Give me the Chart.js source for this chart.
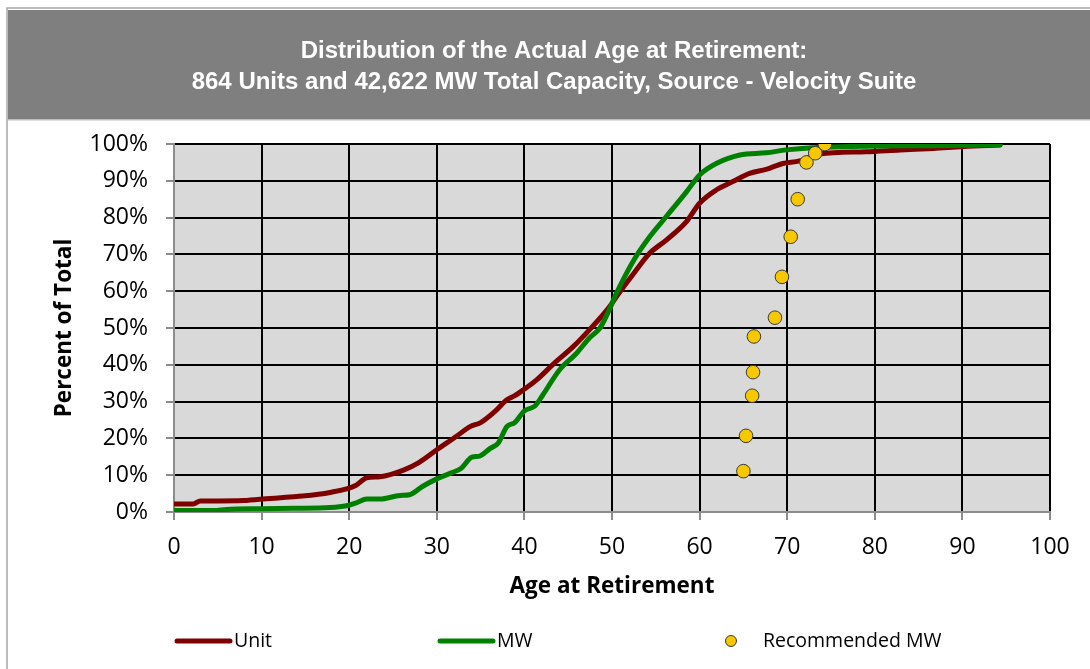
<!DOCTYPE html>
<html>
<head>
<meta charset="utf-8">
<script src="https://cdn.jsdelivr.net/npm/chart.js@4.4.1/dist/chart.umd.min.js"></script>
<style>
  html, body { margin: 0; padding: 0; background: #ffffff; }
  #wrap { width: 1090px; height: 669px; position: relative; }
</style>
</head>
<body>
<div id="wrap"><canvas id="c" width="1090" height="669"></canvas></div>
<script>
// ---- Data ----
const titleLines = [
  'Distribution of the Actual Age at Retirement:',
  '864 Units and 42,622 MW Total Capacity, Source - Velocity Suite'
];
const xTitle = 'Age at Retirement';
const yTitle = 'Percent of Total';
const seriesNames = ['Unit', 'MW', 'Recommended MW'];

const unitAges = [0, 2.2, 3, 5, 7.9, 11, 14, 17.8, 20.8, 22, 23.5, 26.2, 28, 30, 32.2, 33.8, 35, 36.8, 38, 38.9, 40, 41.4, 43.3, 45.6, 47.5, 49.6, 50.5, 52.5, 54.3, 56.2, 58.5, 60, 61.9, 63.8, 65.7, 67.6, 69.5, 71.4, 73.7, 79, 82.9, 86.7, 90.1, 94.3];
const unitPct  = [2.2, 2.2, 3.0, 3.0, 3.1, 3.7, 4.2, 5.3, 7.3, 9.3, 9.6, 11.4, 13.5, 16.9, 20.5, 23.2, 24.3, 27.7, 30.5, 31.6, 33.4, 35.9, 40.2, 45.0, 49.7, 55.4, 58.5, 64.9, 70.3, 73.9, 78.9, 83.9, 87.5, 89.8, 92.0, 93.1, 94.7, 95.4, 97.3, 97.9, 98.4, 98.8, 99.3, 99.7];

const mwAges = [0, 4.5, 6, 9.8, 13.6, 17.8, 19.7, 20.8, 22, 23.5, 25.8, 26.9, 28.4, 30, 31.5, 32.8, 34, 34.9, 36.1, 37, 38, 38.9, 40, 41.2, 42.1, 44, 45.9, 47.5, 48.6, 49.6, 50.5, 52.5, 54.3, 56.2, 58.5, 60, 61.9, 64.6, 67.6, 69.9, 72.9, 77.1, 82.9, 88.6, 94.3];
const mwPct  = [0.4, 0.4, 0.7, 0.9, 1.0, 1.2, 1.7, 2.5, 3.5, 3.5, 4.5, 4.7, 7.0, 9.0, 10.5, 11.9, 14.9, 15.2, 17.3, 18.7, 23.2, 24.3, 27.5, 28.8, 31.8, 38.6, 43.0, 47.5, 49.9, 54.5, 59.4, 68.5, 74.8, 80.3, 87.0, 91.6, 94.7, 97.0, 97.6, 98.4, 99.0, 99.3, 99.5, 99.6, 99.8];

const recAges = [65.0, 65.3, 66.0, 66.1, 66.2, 68.6, 69.4, 70.4, 71.2, 72.2, 73.2, 74.3];
const recPct  = [11.1, 20.7, 31.6, 38.0, 47.7, 52.8, 63.9, 74.8, 85.0, 95.0, 97.5, 100.0];

const xTicks = [0, 10, 20, 30, 40, 50, 60, 70, 80, 90, 100];
const yTicks = [0, 10, 20, 30, 40, 50, 60, 70, 80, 90, 100];

// ---- Build ----
const toPts = (xs, ys) => xs.map((x, i) => ({ x: x, y: ys[i] }));

const FONT = "'Open Sans', 'Lato', sans-serif";
const UNIT_COLOR = '#7f0000';
const MW_COLOR = '#008000';
const REC_COLOR = '#f5c800';
const PAD_LEFT = 58;

const framePlugin = {
  id: 'frame',
  beforeDraw(chart) {
    const ctx = chart.ctx;
    ctx.save();
    ctx.fillStyle = '#ffffff';
    ctx.fillRect(0, 0, chart.width, chart.height);
    ctx.strokeStyle = '#a6a6a6';
    ctx.lineWidth = 1.5;
    ctx.beginPath();
    ctx.moveTo(7, chart.height + 2);
    ctx.lineTo(7, 8);
    ctx.lineTo(chart.width + 2, 8);
    ctx.stroke();
    ctx.fillStyle = '#7f7f7f';
    ctx.fillRect(8, 10, chart.width - 8, 110);
    ctx.fillStyle = '#bfbfbf';
    ctx.fillRect(8, 119, chart.width - 8, 1.5);
    const a = chart.chartArea;
    ctx.fillStyle = '#d9d9d9';
    ctx.fillRect(a.left, a.top, a.right - a.left, a.bottom - a.top);
    ctx.restore();
  }
};

const legendPlugin = {
  id: 'customLegend',
  afterDraw(chart) {
    const ctx = chart.ctx;
    const ds = chart.data.datasets;
    const y = 641;
    ctx.save();
    ctx.font = '19.5px ' + FONT;
    ctx.textBaseline = 'middle';
    ctx.lineCap = 'round';
    const items = [
      { line: true, x0: 177, x1: 230, tx: 234, d: ds[0] },
      { line: true, x0: 440, x1: 493, tx: 497, d: ds[1] },
      { line: false, cx: 731, tx: 763, d: ds[2] }
    ];
    items.forEach(it => {
      if (it.line) {
        ctx.strokeStyle = it.d.borderColor;
        ctx.lineWidth = 5;
        ctx.beginPath();
        ctx.moveTo(it.x0, y);
        ctx.lineTo(it.x1, y);
        ctx.stroke();
      } else {
        ctx.fillStyle = it.d.pointBackgroundColor;
        ctx.strokeStyle = it.d.pointBorderColor;
        ctx.lineWidth = 1;
        ctx.beginPath();
        ctx.arc(it.cx, y, 5.5, 0, Math.PI * 2);
        ctx.fill();
        ctx.stroke();
      }
      ctx.fillStyle = '#000';
      ctx.fillText(it.d.label, it.tx, y);
    });
    ctx.restore();
  }
};

const gridColor = (ctx) => (ctx.tick && ctx.tick.value === 0) ? 'rgba(0,0,0,0)' : '#000000';

new Chart(document.getElementById('c'), {
  type: 'scatter',
  data: {
    datasets: [
      {
        label: seriesNames[0],
        data: toPts(unitAges, unitPct),
        showLine: true,
        borderColor: UNIT_COLOR,
        backgroundColor: UNIT_COLOR,
        borderWidth: 5,
        pointRadius: 0,
        cubicInterpolationMode: 'monotone',
        borderCapStyle: 'round',
        borderJoinStyle: 'round',
        order: 3
      },
      {
        label: seriesNames[1],
        data: toPts(mwAges, mwPct),
        showLine: true,
        borderColor: MW_COLOR,
        backgroundColor: MW_COLOR,
        borderWidth: 5,
        pointRadius: 0,
        cubicInterpolationMode: 'monotone',
        borderCapStyle: 'round',
        borderJoinStyle: 'round',
        order: 2
      },
      {
        label: seriesNames[2],
        data: toPts(recAges, recPct),
        showLine: false,
        pointRadius: 6.8,
        pointBackgroundColor: REC_COLOR,
        pointBorderColor: '#3a3a3a',
        pointBorderWidth: 1,
        order: 1
      }
    ]
  },
  options: {
    responsive: false,
    animation: false,
    events: [],
    layout: { padding: { top: 0, right: 40, bottom: 0, left: PAD_LEFT } },
    plugins: {
      legend: { display: false },
      tooltip: { enabled: false },
      title: {
        display: true,
        text: titleLines,
        color: '#ffffff',
        font: { family: "'Liberation Sans', Arial, sans-serif", size: 24, weight: 'bold', lineHeight: 31 / 24 },
        padding: { top: 36, bottom: 46 }
      }
    },
    scales: {
      x: {
        type: 'linear',
        min: 0, max: 100,
        afterBuildTicks: (s) => { s.ticks = xTicks.map(v => ({ value: v })); },
        ticks: { color: '#000', font: { family: FONT, size: 23 }, padding: 14, maxRotation: 0 },
        grid: { color: gridColor, lineWidth: 2, tickColor: '#8c8c8c', tickLength: 8, tickWidth: 2 },
        border: { color: '#8c8c8c', width: 2 },
        title: { display: true, text: xTitle, color: '#000', font: { family: FONT, size: 22.5, weight: 'bold' }, padding: { top: 0, bottom: 68.5 } },
        afterFit: (s) => { s.height = 157; }
      },
      y: {
        type: 'linear',
        min: 0, max: 100,
        afterBuildTicks: (s) => { s.ticks = yTicks.map(v => ({ value: v })); },
        ticks: { color: '#000', font: { family: FONT, size: 23 }, padding: 18, callback: (v) => v + '%' },
        grid: { color: gridColor, lineWidth: 2, tickColor: '#8c8c8c', tickLength: 8, tickWidth: 2 },
        border: { color: '#8c8c8c', width: 2 },
        title: { display: true, text: yTitle, color: '#000', font: { family: FONT, size: 22.5, weight: 'bold' }, padding: { top: 65 - 13.5 - PAD_LEFT, bottom: 0 } },
        afterFit: (s) => { s.width = 174 - PAD_LEFT; }
      }
    }
  },
  plugins: [framePlugin, legendPlugin]
});
</script>
</body>
</html>
